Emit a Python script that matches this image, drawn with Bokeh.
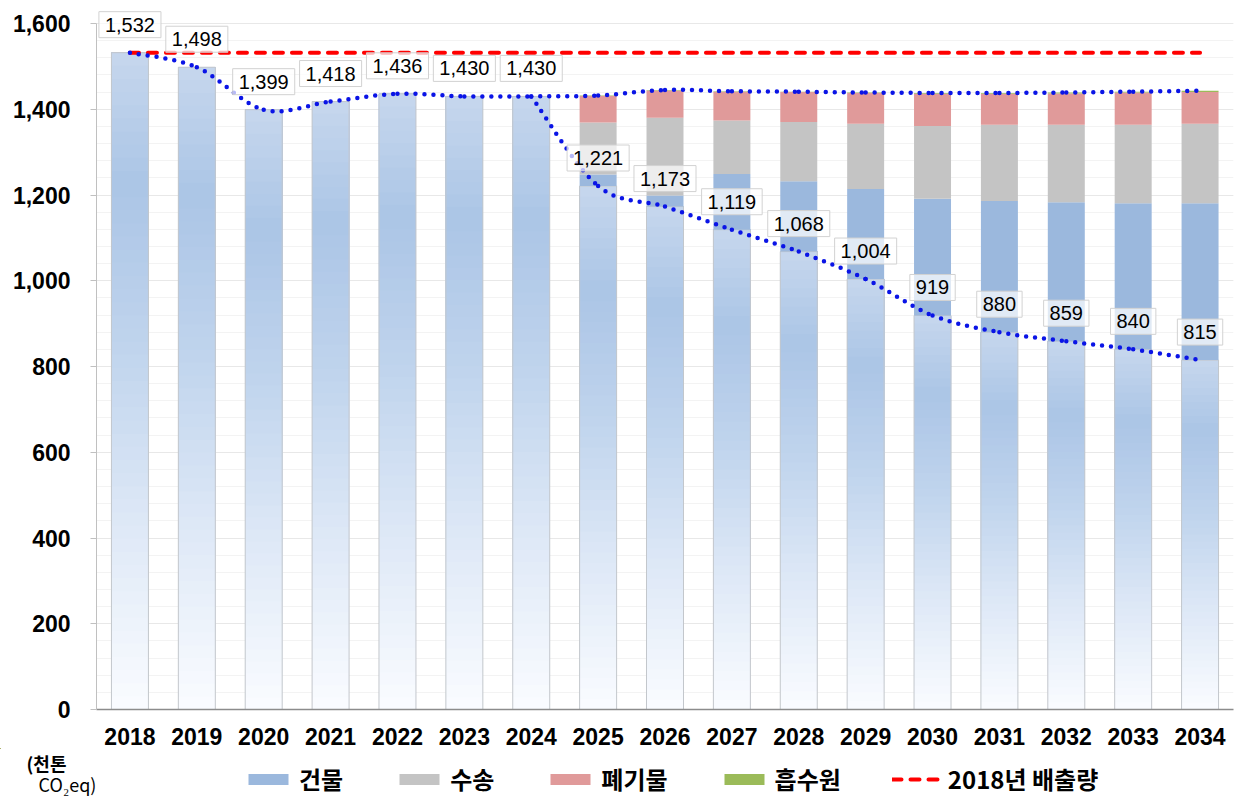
import numpy as np
from bokeh.plotting import figure
from bokeh.layouts import column
from bokeh.core.properties import value
from bokeh.models import (Range1d, FixedTicker, ColumnDataSource, LabelSet, Label, Text,
                          Legend, LegendItem, NumeralTickFormatter)
from bokeh.embed import file_html
from bokeh.resources import INLINE

# ---------------- data ----------------
years = [str(y) for y in range(2018, 2035)]
net = [1532, 1498, 1399, 1418, 1436, 1430, 1430, 1221, 1173, 1119, 1068, 1004, 919, 880, 859, 840, 815]
building = [0, 0, 0, 0, 0, 0, 0, 27, 26, 130, 164, 210, 272, 306, 324, 341, 366]
transport = [0, 0, 0, 0, 0, 0, 0, 121, 181, 125, 138, 152, 170, 178, 181, 183, 185]
waste = [0, 0, 0, 0, 0, 0, 0, 62, 64, 67, 70, 72, 75, 72, 73, 75, 74]
absorb = [0, 0, 0, 0, 0, 0, 0, 1, 1, 1, 1, 1, 2, 2, 2, 2, 3]
y_ticks = [0, 200, 400, 600, 800, 1000, 1200, 1400, 1600]
series_names = ["건물", "수송", "폐기물", "흡수원", "2018년 배출량"]
unit_line1 = "(천톤"
unit_line2 = "CO\u2082eq)"

# ---------------- styles ----------------
C_BLD = "#9bb8dd"
C_TRN = "#c4c4c4"
C_WST = "#e09a9a"
C_ABS = "#9bbb59"
C_RED = "#ff0000"
C_DOT = "#0a14e6"
BAR_W = 0.553
W = 1238
H1 = 748
H2 = 48

idx = np.arange(len(years), dtype=float)
net_a = np.array(net, dtype=float)
b1 = net_a + np.array(building)
b2 = b1 + np.array(transport)
b3 = b2 + np.array(waste)
b4 = b3 + np.array(absorb)

p = figure(width=W, height=H1, x_range=Range1d(-0.5, len(years) - 0.5),
           y_range=Range1d(0, 1642), output_backend="svg", toolbar_location=None,
           min_border_left=96, min_border_right=W - 1233, min_border_top=5, min_border_bottom=39)
p.outline_line_color = None
p.background_fill_color = "white"

# gradient fill of emission bars (per bar, relative to its own height)
stop_t = np.array([0.0, 0.3, 0.55, 0.8, 1.0])
stop_c = np.array([[0xfa, 0xfc, 0xff], [0xdc, 0xe7, 0xf6], [0xc0, 0xd4, 0xed],
                   [0xab, 0xc5, 0xe6], [0xc6, 0xd7, 0xed]], dtype=float)
N = 50
gx, gb, gt, gc = [], [], [], []
for k in range(N):
    t = (k + 0.5) / N
    rgb = [np.interp(t, stop_t, stop_c[:, j]) for j in range(3)]
    col = "#%02x%02x%02x" % tuple(int(round(v)) for v in rgb)
    for i in range(len(years)):
        gx.append(idx[i]); gb.append(net_a[i] * k / N); gt.append(net_a[i]); gc.append(col)
p.vbar(x=gx, width=BAR_W, bottom=gb, top=gt, fill_color=gc, line_color=None)
p.vbar(x=idx, width=BAR_W, bottom=0, top=net_a, fill_color=None, line_color="#c3c7cc", line_width=1)

SEG = [(net_a, b1, C_BLD), (b1, b2, C_TRN), (b2, b3, C_WST), (b3, b4, C_ABS)]
for lo, hi, c in SEG:
    p.vbar(x=idx, width=BAR_W, bottom=lo, top=hi, fill_color=c, line_color=None)

# 2018 baseline
RED_KW = dict(line_color=C_RED, line_width=4, line_dash="9 9", line_cap="round")
base_line = [net[0]] * len(years)
p.line(x=idx, y=base_line, **RED_KW)


def smooth(xs, ys):
    pts = np.column_stack([xs, ys]).astype(float)
    n = len(pts)
    out = {k: [] for k in ["x0", "y0", "x1", "y1", "cx0", "cy0", "cx1", "cy1"]}
    for i in range(n - 1):
        p0 = pts[max(i - 1, 0)]; p1 = pts[i]; p2 = pts[i + 1]; p3 = pts[min(i + 2, n - 1)]
        c1 = p1 + (p2 - p0) / 6.0
        c2 = p2 - (p3 - p1) / 6.0
        out["x0"].append(p1[0]); out["y0"].append(p1[1])
        out["x1"].append(p2[0]); out["y1"].append(p2[1])
        out["cx0"].append(c1[0]); out["cy0"].append(c1[1])
        out["cx1"].append(c2[0]); out["cy1"].append(c2[1])
    return out


upper = smooth(idx, b4)
lower = smooth(idx[6:], net_a[6:])
for seg in (upper, lower):
    p.bezier(source=ColumnDataSource(seg), x0="x0", y0="y0", x1="x1", y1="y1",
             cx0="cx0", cy0="cy0", cx1="cx1", cy1="cy1",
             line_color=C_DOT, line_width=4.5, line_dash="0 9", line_cap="round")

# data labels
lab_src = ColumnDataSource(dict(x=idx, y=net_a, t=[f"{v:,}" for v in net]))
tprops = Text.properties()
if "padding" in tprops and "background_fill_color" in tprops and "border_line_color" in tprops:
    p.text(x="x", y="y", text="t", source=lab_src, y_offset=-28,
           text_align="center", text_baseline="middle",
           text_font=value("Liberation Sans"), text_font_size="20px", text_color="black",
           background_fill_color="white", background_fill_alpha=0.7,
           border_line_color="#d2d2d2", border_line_width=1, padding=6)
else:
    p.add_layout(LabelSet(x="x", y="y", text="t", source=lab_src, y_offset=28,
                          text_align="center", text_baseline="middle",
                          text_font=value("Liberation Sans"), text_font_size="20px",
                          text_color="black", background_fill_color="white",
                          background_fill_alpha=0.7, border_line_color="#d2d2d2"))

# axes
p.xgrid.grid_line_color = None
p.ygrid.grid_line_color = "#e8e8e8"
p.ygrid.minor_grid_line_color = "#f3f3f3"
p.yaxis.ticker = FixedTicker(ticks=y_ticks, minor_ticks=list(range(0, 1601, 40)))
p.yaxis.formatter = NumeralTickFormatter(format="0,0")
p.yaxis.bounds = (0, 1600)
p.xaxis.ticker = FixedTicker(ticks=list(range(len(years))))
p.xaxis.major_label_overrides = {i: y for i, y in enumerate(years)}
for ax in (p.xaxis[0], p.yaxis[0]):
    ax.major_label_text_font = "Liberation Sans"
    ax.major_label_text_font_style = "bold"
    ax.major_label_text_font_size = "23px"
    ax.major_label_text_color = "black"
    ax.minor_tick_line_color = None
p.xaxis.axis_line_color = "#8c8c8c"
p.xaxis.axis_line_width = 1.5
p.xaxis.major_tick_line_color = None
p.xaxis.major_label_standoff = 12
p.yaxis.axis_line_color = "#c0c0c0"
p.yaxis.major_tick_line_color = "#c0c0c0"
p.yaxis.major_tick_out = 6
p.yaxis.major_tick_in = 0
p.yaxis.major_label_standoff = 20

# ---------------- bottom strip: unit + legend ----------------
q = figure(width=W, height=H2, x_range=Range1d(0, W), y_range=Range1d(0, H2),
           x_axis_type=None, y_axis_type=None, output_backend="svg", toolbar_location=None,
           min_border=0)
q.frame_align = False
q.outline_line_color = None
q.xgrid.grid_line_color = None
q.ygrid.grid_line_color = None
# a range in which the legend's renderers fall far outside this strip
q.extra_x_ranges = {"off": Range1d(1000, 1001)}
q.extra_y_ranges = {"off": Range1d(-9000, -8000)}

q.add_layout(Label(x=46, y=H2 - 14, text=unit_line1, text_align="center", text_baseline="middle",
                   text_font="Noto Sans CJK KR", text_font_style="bold", text_font_size="18px",
                   text_color="black"))
q.add_layout(Label(x=67, y=13, text=unit_line2, text_align="center", text_baseline="middle",
                   text_font="Noto Sans CJK KR", text_font_style="normal", text_font_size="18px",
                   text_color="black"))

lg = [q.vbar(x=idx, width=BAR_W, bottom=lo, top=hi, fill_color=c, line_color=None,
             x_range_name="off", y_range_name="off")
      for lo, hi, c in SEG]
lg.append(q.line(x=idx, y=base_line, x_range_name="off", y_range_name="off", **RED_KW))
legend = Legend(items=[LegendItem(label=n, renderers=[r]) for n, r in zip(series_names, lg)],
                orientation="horizontal", location=(243, 0),
                label_text_font="Noto Sans CJK KR", label_text_font_style="bold",
                label_text_font_size="24px", label_text_color="black",
                glyph_width=50, glyph_height=14, label_standoff=6, spacing=51,
                border_line_color=None, background_fill_alpha=0, padding=0, margin=0)
q.add_layout(legend)

open("out.html", "w").write(file_html(column(p, q, spacing=0), INLINE))
